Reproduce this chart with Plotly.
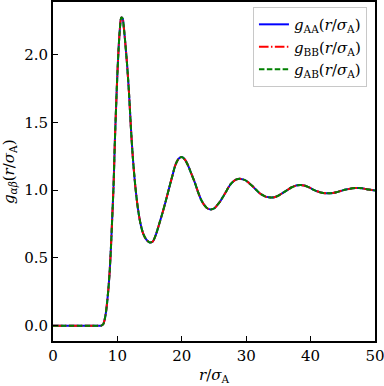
import plotly.graph_objects as go

r = [0, 1, 2, 3, 4, 5, 6, 7, 7.5, 7.8, 8.0, 8.2, 8.4, 8.6, 8.8, 9.0, 9.2, 9.4, 9.6, 9.8,
     10.0, 10.2, 10.4, 10.6, 10.8, 11.0, 11.2, 11.5, 11.8, 12.1, 12.4, 12.8, 13.2, 13.6,
     14.0, 14.5, 15.0, 15.5, 16.0, 16.5, 17.0, 17.5, 18.0, 18.5, 19.0, 19.5, 20.0, 20.5,
     21.0, 21.5, 22.0, 22.5, 23.0, 23.5, 24.0, 24.5, 25.0, 25.5, 26.0, 26.5, 27.0, 27.5,
     28.0, 28.5, 29.0, 29.5, 30.0, 30.5, 31.0, 31.5, 32.0, 32.5, 33.0, 33.5, 34.0, 34.5,
     35.0, 35.5, 36.0, 36.5, 37.0, 37.5, 38.0, 38.5, 39.0, 39.5, 40.0, 40.5, 41.0, 41.5,
     42.0, 42.5, 43.0, 43.5, 44.0, 44.5, 45.0, 45.5, 46.0, 46.5, 47.0, 47.5, 48.0, 48.5,
     49.0, 49.5, 50.0]

g_AA = [0, 0, 0, 0, 0, 0, 0, 0, 0.0, 0.01, 0.04, 0.09, 0.17, 0.27, 0.40, 0.58, 0.80, 1.03, 1.35, 1.62,
        1.86, 2.06, 2.20, 2.275, 2.27, 2.20, 2.10, 1.93, 1.72, 1.46, 1.24, 1.02, 0.86, 0.75,
        0.68, 0.635, 0.614, 0.622, 0.675, 0.752, 0.832, 0.918, 1.01, 1.10, 1.185, 1.232, 1.245, 1.225,
        1.18, 1.12, 1.06, 0.99, 0.93, 0.89, 0.865, 0.858, 0.865, 0.89, 0.92, 0.96, 1.00, 1.04,
        1.065, 1.08, 1.085, 1.08, 1.07, 1.05, 1.03, 1.005, 0.982, 0.965, 0.953, 0.948, 0.946, 0.95,
        0.96, 0.975, 0.99, 1.005, 1.02, 1.03, 1.036, 1.038, 1.035, 1.027, 1.015, 1.003, 0.992, 0.984,
        0.979, 0.977, 0.977, 0.980, 0.985, 0.992, 0.999, 1.005, 1.010, 1.014, 1.016, 1.016, 1.014, 1.010,
        1.005, 1.002, 0.998]
g_BB = list(g_AA)
g_AB = list(g_AA)

x_ticks = [0, 10, 20, 30, 40, 50]
y_ticks = [0, 0.5, 1.0, 1.5, 2.0]
y_ticktext = ["0.0", "0.5", "1.0", "1.5", "2.0"]

names = ["<i>g</i><sub>AA</sub>(<i>r</i>/<i>σ</i><sub>A</sub>)",
         "<i>g</i><sub>BB</sub>(<i>r</i>/<i>σ</i><sub>A</sub>)",
         "<i>g</i><sub>AB</sub>(<i>r</i>/<i>σ</i><sub>A</sub>)"]

FONT = "DejaVu Serif"

fig = go.Figure()
fig.add_trace(go.Scatter(x=r, y=g_AA, mode="lines", name=names[0],
                         line=dict(color="#0000FF", width=2, shape="spline", smoothing=0.8)))
fig.add_trace(go.Scatter(x=r, y=g_BB, mode="lines", name=names[1],
                         line=dict(color="#FF0000", width=2, dash="9.6px,2.4px,1.5px,2.4px", shape="spline", smoothing=0.8)))
fig.add_trace(go.Scatter(x=r, y=g_AB, mode="lines", name=names[2],
                         line=dict(color="#008000", width=2, dash="5.5px,2.4px", shape="spline", smoothing=0.8)))

axis_common = dict(showgrid=False, zeroline=False, showline=True, linecolor="black", linewidth=2,
                   mirror=True, ticks="inside", ticklen=5, tickwidth=1, tickcolor="black",
                   automargin=False, ticklabeloverflow="allow",
                   tickfont=dict(family=FONT, size=15, color="black"))

fig.update_xaxes(range=[0, 50], tickvals=x_ticks, **axis_common)
fig.update_yaxes(range=[-0.1135, 2.39], tickvals=y_ticks, ticktext=y_ticktext, **axis_common)

fig.add_annotation(text="<i>r</i>/<i>σ</i><sub>A</sub>", xref="paper", yref="paper",
                   x=0.5, y=-0.103, xanchor="center", yanchor="middle", showarrow=False,
                   font=dict(family=FONT, size=15, color="black"))
fig.add_annotation(text="<i>g</i><sub><i>αβ</i></sub>(<i>r</i>/<i>σ</i><sub>A</sub>)", xref="paper", yref="paper",
                   x=-0.135, y=0.5, xanchor="center", yanchor="middle", showarrow=False, textangle=-90,
                   font=dict(family=FONT, size=15, color="black"))

fig.update_layout(
    width=384, height=386,
    margin=dict(l=53, r=9, t=2, b=45, autoexpand=False),
    paper_bgcolor="white", plot_bgcolor="white",
    showlegend=True,
    legend=dict(x=0.975, y=0.985, xanchor="right", yanchor="top",
                bgcolor="rgba(255,255,255,0.8)", bordercolor="#c8c8c8", borderwidth=1,
                font=dict(family=FONT, size=15, color="black"), itemwidth=30, tracegroupgap=0),
)

fig.write_html("out.html", config={"displayModeBar": False},
               post_script="document.body.style.margin='0';document.body.style.padding='0';document.body.style.overflow='hidden';")
